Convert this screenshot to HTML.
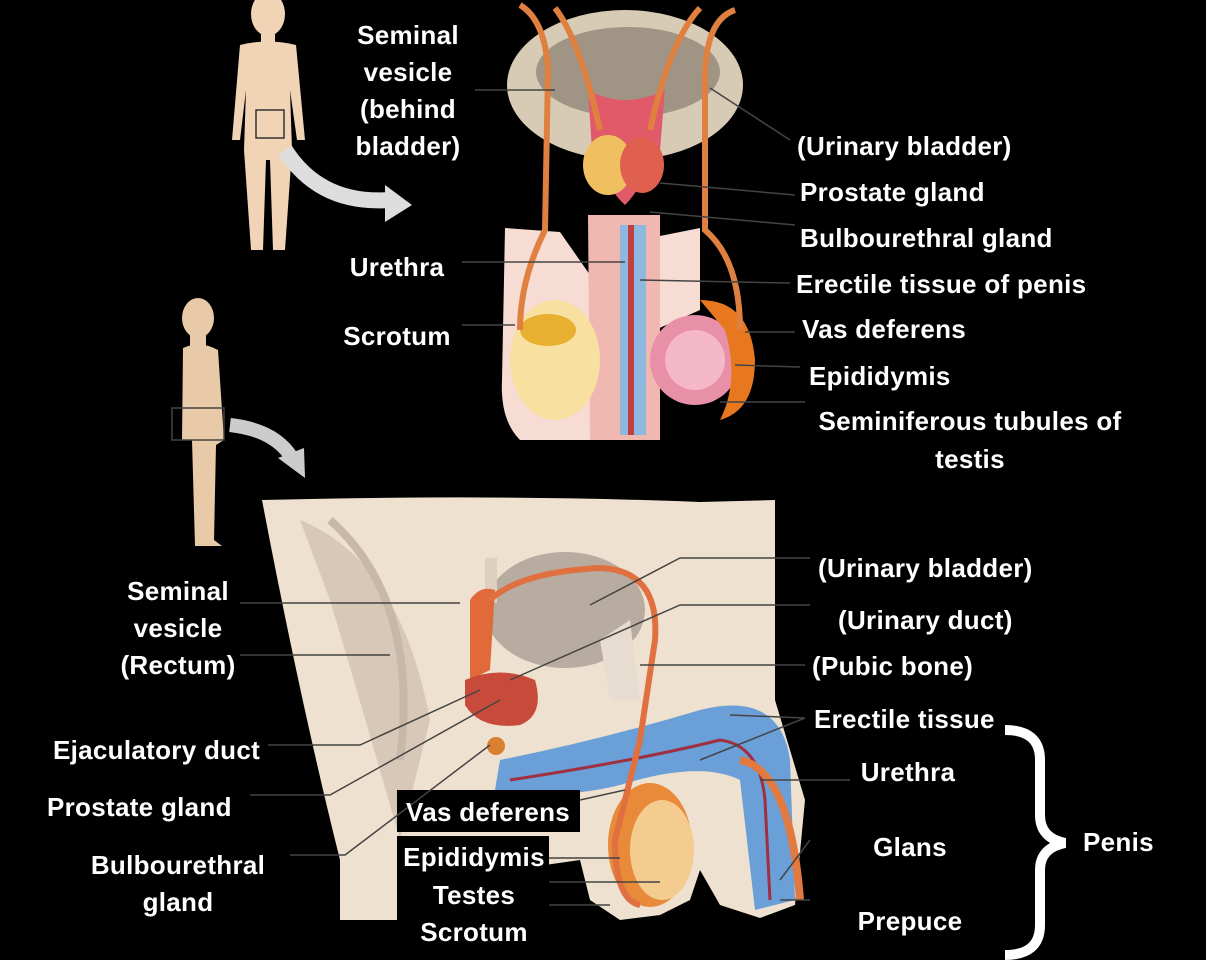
<!DOCTYPE html>
<html><head><style>
html,body{margin:0;padding:0;background:#000;}
svg{display:block}
text{font-family:"Liberation Sans",sans-serif;font-weight:bold;fill:#fff;font-size:26px;letter-spacing:0.3px}
</style></head><body>
<svg width="1206" height="960" viewBox="0 0 1206 960" xmlns="http://www.w3.org/2000/svg">
<rect width="1206" height="960" fill="#000"/>
<!-- front figure -->
<g fill="#f1d3b5">
<ellipse cx="268" cy="14" rx="17" ry="22"/>
<rect x="261" y="30" width="14" height="14"/>
<path d="M240 45 Q268 38 296 45 L305 140 L297 140 L290 90 L292 150 L285 250 L273 250 L270 160 L266 160 L263 250 L251 250 L244 150 L246 90 L240 140 L232 140 Z"/>
</g>
<rect x="256" y="110" width="28" height="28" fill="none" stroke="#333" stroke-width="1.5"/>
<path d="M285 150 Q320 205 390 200" fill="none" stroke="#ddd" stroke-width="16"/>
<path d="M385 185 L412 205 L385 222 Z" fill="#ddd"/>
<!-- side figure -->
<g fill="#e8c9a8">
<ellipse cx="198" cy="318" rx="16" ry="20"/>
<rect x="190" y="334" width="16" height="14"/>
<path d="M183 348 Q200 340 218 350 L224 440 L216 445 L214 540 L222 546 L195 546 L192 440 L182 440 Z"/>
</g>
<rect x="172" y="408" width="52" height="32" fill="none" stroke="#444" stroke-width="1.5"/>
<path d="M230 425 Q275 430 292 458" fill="none" stroke="#ccc" stroke-width="14"/>
<path d="M278 458 L305 478 L304 448 Z" fill="#ccc"/>

<!-- top diagram -->
<path d="M505 228 L560 232 L590 275 L590 440 L520 440 Q500 420 502 380 Z" fill="#f6dcd3"/>
<path d="M640 240 L700 228 L700 310 L655 330 Z" fill="#f6dcd3"/>
<ellipse cx="625" cy="85" rx="118" ry="75" fill="#d8cbb6"/>
<ellipse cx="628" cy="72" rx="92" ry="45" fill="#a09585"/>
<path d="M588 90 Q625 110 665 90 L660 150 Q640 190 625 205 Q608 190 592 150 Z" fill="#e05a6a"/>
<ellipse cx="608" cy="165" rx="25" ry="30" fill="#f0c060"/>
<ellipse cx="642" cy="165" rx="22" ry="28" fill="#e06050"/>
<path d="M588 215 L660 215 L660 440 L590 440 Z" fill="#f0b8b0"/>
<rect x="620" y="225" width="26" height="210" fill="#8fb8e0"/>
<rect x="628" y="225" width="6" height="210" fill="#c04040"/>
<ellipse cx="555" cy="360" rx="45" ry="60" fill="#f8e0a0"/>
<ellipse cx="548" cy="330" rx="28" ry="16" fill="#e8b030"/>
<circle cx="695" cy="360" r="45" fill="#e890a8"/>
<circle cx="695" cy="360" r="30" fill="#f4b8c8"/>
<path d="M700 300 Q750 300 755 360 Q755 410 720 420 Q740 380 725 330 Z" fill="#e87820"/>
<g fill="none" stroke="#e08040" stroke-width="6">
<path d="M520 5 Q545 20 548 70 L545 230 Q520 280 520 330"/>
<path d="M735 10 Q705 20 705 80 L705 230 Q740 260 740 330"/>
<path d="M555 8 Q580 40 600 130"/>
<path d="M700 8 Q670 40 650 130"/>
</g>
<g stroke="#444" stroke-width="1.5" fill="none">
<line x1="475" y1="90" x2="555" y2="90"/>
<line x1="790" y1="140" x2="710" y2="88"/>
<line x1="795" y1="195" x2="660" y2="183"/>
<line x1="795" y1="225" x2="650" y2="212"/>
<line x1="462" y1="262" x2="625" y2="262"/>
<line x1="790" y1="283" x2="640" y2="280"/>
<line x1="462" y1="325" x2="515" y2="325"/>
<line x1="795" y1="332" x2="745" y2="332"/>
<line x1="800" y1="367" x2="735" y2="365"/>
<line x1="805" y1="402" x2="720" y2="402"/>
</g>

<!-- bottom diagram -->
<path d="M262 500 Q500 494 700 502 L775 500 L775 700 L805 800 L795 905 L760 918 L720 905 L700 870 L690 900 L660 915 L620 920 L590 900 L580 860 L510 870 L500 920 L340 920 L340 860 Q300 700 262 500 Z" fill="#efe1d0"/>
<path d="M300 520 Q400 560 430 720 L400 840 Q360 700 330 600 Z" fill="#d7c8b8"/>
<path d="M330 520 Q420 600 400 760" fill="none" stroke="#c8b8a8" stroke-width="8"/>
<ellipse cx="565" cy="610" rx="80" ry="58" fill="#b8aca0"/>
<rect x="485" y="558" width="12" height="45" fill="#ddd0c0"/>
<path d="M470 600 Q480 585 495 590 L490 670 L470 680 Z" fill="#e06a3a"/>
<path d="M465 680 Q500 665 535 680 Q545 715 520 725 Q480 730 465 705 Z" fill="#c84a3a"/>
<circle cx="496" cy="746" r="9" fill="#d88030"/>
<path d="M600 640 L630 620 L640 700 L610 700 Z" fill="#e6dccf"/>
<path d="M500 760 Q600 740 700 710 Q780 690 790 760 L795 900 L755 910 L740 780 Q700 760 620 785 Q560 800 495 790 Z" fill="#6a9fd8"/>
<path d="M510 780 Q640 760 720 740 Q760 745 765 800 L770 900" fill="none" stroke="#a03040" stroke-width="3"/>
<path d="M740 760 Q790 770 800 900" fill="none" stroke="#e07a40" stroke-width="8"/>
<ellipse cx="650" cy="845" rx="42" ry="62" fill="#e88a3a"/>
<ellipse cx="662" cy="850" rx="32" ry="50" fill="#f5cc90"/>
<g fill="none" stroke="#e07040" stroke-width="6">
<path d="M490 600 Q520 572 600 568 Q660 570 655 640 L640 740 Q625 800 615 840 Q615 900 640 905"/>
</g>
<rect x="397" y="790" width="183" height="42" fill="#000"/>
<rect x="397" y="836" width="152" height="110" fill="#000"/>
<g stroke="#444" stroke-width="1.5" fill="none">
<polyline points="810,558 680,558 590,605"/>
<polyline points="810,605 680,605 510,680"/>
<line x1="805" y1="665" x2="640" y2="665"/>
<polyline points="805,718 730,715"/>
<line x1="805" y1="718" x2="700" y2="760"/>
<line x1="850" y1="780" x2="760" y2="780"/>
<line x1="810" y1="840" x2="780" y2="880"/>
<line x1="810" y1="900" x2="780" y2="900"/>
<line x1="240" y1="603" x2="460" y2="603"/>
<line x1="240" y1="655" x2="390" y2="655"/>
<polyline points="268,745 360,745 480,690"/>
<polyline points="250,795 330,795 500,700"/>
<polyline points="290,855 345,855 490,745"/>
<line x1="580" y1="800" x2="625" y2="790"/>
<line x1="549" y1="858" x2="620" y2="858"/>
<line x1="549" y1="882" x2="660" y2="882"/>
<line x1="549" y1="905" x2="610" y2="905"/>
</g>
<!-- brace -->
<path d="M1005 730 Q1040 730 1040 760 L1040 815 Q1040 838 1065 843 Q1040 848 1040 870 L1040 925 Q1040 955 1005 955" fill="none" stroke="#fff" stroke-width="10"/>

<!-- labels -->
<g text-anchor="middle">
<text x="408" y="44">Seminal</text>
<text x="408" y="81">vesicle</text>
<text x="408" y="118">(behind</text>
<text x="408" y="155">bladder)</text>
<text x="397" y="276">Urethra</text>
<text x="397" y="345">Scrotum</text>
<text x="970" y="430">Seminiferous tubules of</text>
<text x="970" y="468">testis</text>
<text x="178" y="600">Seminal</text>
<text x="178" y="637">vesicle</text>
<text x="178" y="674">(Rectum)</text>
<text x="178" y="874">Bulbourethral</text>
<text x="178" y="911">gland</text>
<text x="488" y="821">Vas deferens</text>
<text x="474" y="866">Epididymis</text>
<text x="474" y="904">Testes</text>
<text x="474" y="941">Scrotum</text>
<text x="908" y="781">Urethra</text>
<text x="910" y="856">Glans</text>
<text x="910" y="930">Prepuce</text>
</g>
<text x="797" y="155">(Urinary bladder)</text>
<text x="800" y="201">Prostate gland</text>
<text x="800" y="247">Bulbourethral gland</text>
<text x="796" y="293">Erectile tissue of penis</text>
<text x="802" y="338">Vas deferens</text>
<text x="809" y="385">Epididymis</text>
<text x="818" y="577">(Urinary bladder)</text>
<text x="838" y="629">(Urinary duct)</text>
<text x="812" y="675">(Pubic bone)</text>
<text x="814" y="728">Erectile tissue</text>
<text x="1083" y="851">Penis</text>
<text x="53" y="759">Ejaculatory duct</text>
<text x="47" y="816">Prostate gland</text>
</svg>
</body></html>
